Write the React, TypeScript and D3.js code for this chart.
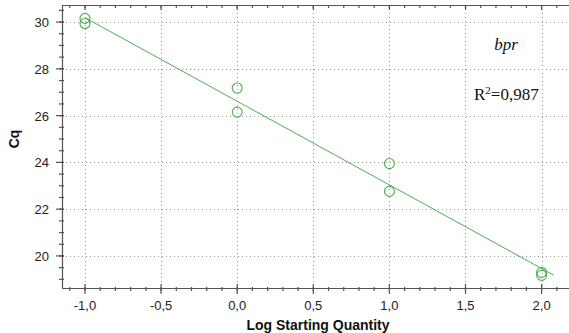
import * as d3 from 'd3';

// standard curve data (log starting quantity vs Cq)
const logQty = [-1, -1, 0, 0, 1, 1, 2, 2];
const cqValues = [30.16, 29.94, 27.18, 26.15, 23.95, 22.76, 19.3, 19.17];
const fitRange = [-1, 2.08];
const xTicks = [-1, -0.5, 0, 0.5, 1, 1.5, 2];
const yTicks = [20, 22, 24, 26, 28, 30];
const geneLabel = 'bpr';
const r2Label = '0,987';

const W = 569;
const H = 333;
const margin = { left: 62, top: 5, right: 0, bottom: 45 };

export default function App() {
  const x = d3.scaleLinear().domain([-1.151, 2.18]).range([margin.left, W - margin.right]);
  const y = d3.scaleLinear().domain([18.63, 30.73]).range([H - margin.bottom, margin.top]);

  // least squares fit for the trend line
  const mx = d3.mean(logQty) as number;
  const my = d3.mean(cqValues) as number;
  const sxy = d3.sum(logQty, (v, i) => (v - mx) * (cqValues[i] - my));
  const sxx = d3.sum(logQty, (v) => (v - mx) ** 2);
  const slope = sxy / sxx;
  const icpt = my - slope * mx;
  const fitLine = d3.line<number>().x((v) => x(v)).y((v) => y(icpt + slope * v));

  // comma decimals and a plain hyphen for the minus sign
  const fmt = (v: number) => v.toFixed(1).replace('.', ',');
  const xMinor = d3.range(-1.1, 2.15, 0.1);
  const yMinor = d3.range(19, 30.6, 0.5);

  const x0 = margin.left;
  const x1 = W - margin.right;
  const y0 = H - margin.bottom;
  const y1 = margin.top;
  const axisColor = '#555';
  const green = '#4caf50';

  return (
    <svg width={W} height={H} style={{ position: 'absolute', left: 0, top: 0, background: '#fff' }}>
      {/* grid */}
      <g stroke="#999" strokeWidth={1} strokeDasharray="1,3">
        {xTicks.map((t) => (
          <line key={'gx' + t} x1={Math.round(x(t)) + 0.5} x2={Math.round(x(t)) + 0.5} y1={y1} y2={y0} />
        ))}
        {yTicks.map((t) => (
          <line key={'gy' + t} x1={x0} x2={x1} y1={Math.round(y(t)) + 0.5} y2={Math.round(y(t)) + 0.5} />
        ))}
      </g>

      {/* axes */}
      <g stroke={axisColor} strokeWidth={1.2}>
        <line x1={x0} x2={x1} y1={y0 + 0.5} y2={y0 + 0.5} />
        <line x1={x0 + 0.5} x2={x0 + 0.5} y1={y1} y2={y0} />
        <line x1={x0} x2={x1} y1={y1 + 0.5} y2={y1 + 0.5} />
        {xMinor.map((t) => (
          <g key={'xm' + t}>
            <line x1={x(t)} x2={x(t)} y1={y0 - 1} y2={y0 + 3} />
            <line x1={x(t)} x2={x(t)} y1={y1} y2={y1 + 3} />
          </g>
        ))}
        {xTicks.map((t) => (
          <g key={'xt' + t}>
            <line x1={x(t)} x2={x(t)} y1={y0 - 4} y2={y0 + 6} />
            <line x1={x(t)} x2={x(t)} y1={y1} y2={y1 + 5} />
          </g>
        ))}
        {yMinor.map((t) => (
          <line key={'ym' + t} x1={x0 - 3} x2={x0 + 2} y1={y(t)} y2={y(t)} />
        ))}
        {yTicks.map((t) => (
          <line key={'yt' + t} x1={x0 - 6} x2={x0 + 2} y1={y(t)} y2={y(t)} />
        ))}
      </g>

      {/* tick labels */}
      <g fontFamily="Liberation Sans, Arial, sans-serif" fontSize={13} fill="#222">
        {xTicks.map((t) => (
          <text key={'xl' + t} x={x(t)} y={y0 + 22} textAnchor="middle">
            {fmt(t)}
          </text>
        ))}
        {yTicks.map((t) => (
          <text key={'yl' + t} x={x0 - 13} y={y(t) + 5} textAnchor="end">
            {t}
          </text>
        ))}
      </g>

      {/* axis titles */}
      <text x={318} y={330} textAnchor="middle" fontFamily="Liberation Sans, Arial, sans-serif" fontSize={14} fontWeight="bold" fill="#111">
        Log Starting Quantity
      </text>
      <text transform={`translate(19,${y(25)}) rotate(-90)`} textAnchor="middle" fontFamily="Liberation Sans, Arial, sans-serif" fontSize={14} fontWeight="bold" fill="#111">
        Cq
      </text>

      {/* fit line */}
      <path d={fitLine(fitRange) as string} fill="none" stroke={green} strokeWidth={1} />

      {/* points */}
      {logQty.map((v, i) => (
        <circle key={'p' + i} cx={x(v)} cy={y(cqValues[i])} r={5} fill="none" stroke={green} strokeWidth={1.1} />
      ))}

      {/* annotations */}
      <text x={506} y={50} textAnchor="middle" fontFamily="Liberation Serif, Times New Roman, serif" fontSize={17} fontStyle="italic" fill="#111">
        {geneLabel}
      </text>
      <text x={474} y={100} fontFamily="Liberation Serif, Times New Roman, serif" fontSize={17} fill="#111">
        R<tspan dy={-6} fontSize={11}>2</tspan>
        <tspan dy={6}>={r2Label}</tspan>
      </text>
    </svg>
  );
}
